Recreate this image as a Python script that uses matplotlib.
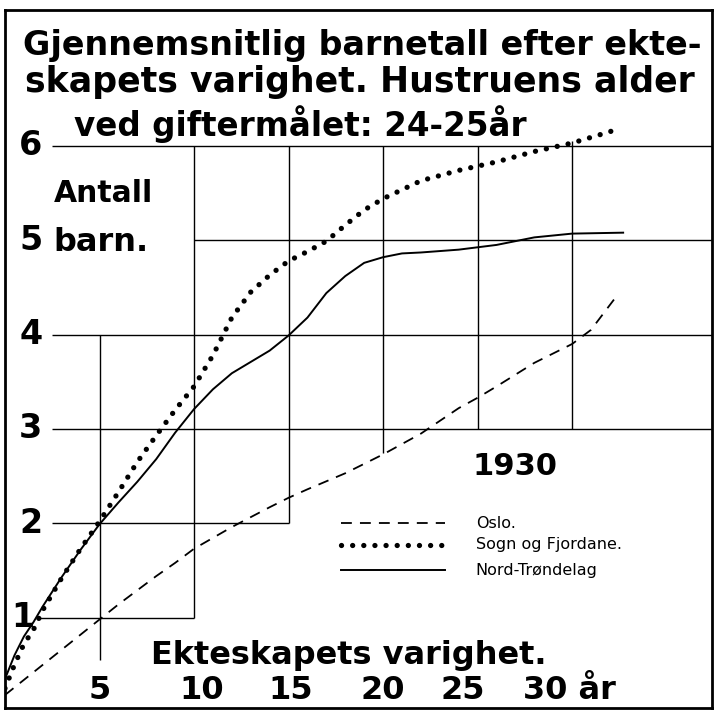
import matplotlib
matplotlib.use("Agg")
import matplotlib.pyplot as plt
from matplotlib.lines import Line2D

# data (years of marriage -> average number of children)
oslo_x = [0, 1, 2, 3, 4, 5, 6, 7, 8, 9, 10, 12, 14, 15, 16, 18, 20, 22, 24, 25, 26, 28, 30, 31, 32.4]
oslo_y = [0.18, 0.34, 0.50, 0.66, 0.82, 0.98, 1.14, 1.29, 1.44, 1.58, 1.73, 1.96, 2.17, 2.27,
          2.36, 2.53, 2.73, 2.95, 3.22, 3.33, 3.45, 3.70, 3.90, 4.05, 4.42]

sogn_x = [0, 0.5, 1, 1.5, 2, 3, 4, 5, 6, 7, 8, 9, 10, 11, 12, 13, 14, 15, 16, 17, 18, 19, 20,
          22, 24, 26, 28, 30, 32, 32.5]
sogn_y = [0.25, 0.50, 0.72, 0.87, 1.08, 1.42, 1.73, 2.02, 2.33, 2.65, 2.93, 3.20, 3.45, 3.78,
          4.18, 4.45, 4.63, 4.78, 4.88, 4.99, 5.16, 5.32, 5.44, 5.63, 5.74, 5.83, 5.94, 6.03,
          6.15, 6.19]

nord_x = [0, 0.5, 1, 1.5, 2, 3, 4, 5, 6, 7, 8, 9, 10, 11, 12, 13, 14, 15, 16, 17, 18, 19, 20,
          21, 22, 24, 26, 28, 30, 32.7]
nord_y = [0.35, 0.60, 0.80, 0.95, 1.12, 1.43, 1.72, 1.99, 2.22, 2.44, 2.68, 2.96, 3.21, 3.42,
          3.59, 3.71, 3.83, 3.99, 4.18, 4.44, 4.62, 4.76, 4.82, 4.86, 4.87, 4.90, 4.95, 5.03,
          5.07, 5.08]

series_names = ["Oslo.", "Sogn og Fjordane.", "Nord-Trøndelag"]
x_ticks = [5, 10.4, 15.1, 20, 24.2, 27.4]
x_tick_labels = ["5", "10", "15", "20", "25", "30 år"]
y_ticks = [1, 2, 3, 4, 5, 6]

title_lines = ["Gjennemsnitlig barnetall efter ekte-",
               "skapets varighet. Hustruens alder",
               "ved giftermålet: 24-25år"]

W, H = 716, 711
fig = plt.figure(figsize=(W / 100, H / 100), dpi=100)
fig.patch.set_facecolor("white")
ax = fig.add_axes([5 / W, 3 / H, 707 / W, 698 / H])
ax.set_xlim(0, 37.4)
ax.set_ylim(0.042, 7.44)
ax.set_xticks([])
ax.set_yticks([])
for s in ax.spines.values():
    s.set_linewidth(2)
    s.set_color("black")

# stepped grid, as drawn in the original
gkw = dict(color="black", linewidth=1.0, zorder=1)
ax.hlines(6, 2.5, 37.4, **gkw)
ax.hlines(5, 10, 37.4, **gkw)
ax.hlines(4, 2.5, 37.4, **gkw)
ax.hlines(3, 2.5, 37.4, **gkw)
ax.hlines(2, 2.5, 15, **gkw)
ax.hlines(1, 1.7, 10, **gkw)
ax.vlines(5, 0.55, 4, **gkw)
ax.vlines(10, 1, 6, **gkw)
ax.vlines(15, 2, 6, **gkw)
ax.vlines(20, 2.75, 6, **gkw)
ax.vlines(25, 3, 6, **gkw)
ax.vlines(30, 3, 6.05, **gkw)

dash_style = dict(color="black", linewidth=1.3, linestyle=(0, (6, 4.5)))
dot_style = dict(color="black", linewidth=3.8, linestyle=(0, (0.01, 2.1)),
                 dash_capstyle="round")
solid_style = dict(color="black", linewidth=1.4)

ax.plot(oslo_x, oslo_y, zorder=3, **dash_style)
ax.plot(sogn_x, sogn_y, zorder=3, **dot_style)
ax.plot(nord_x, nord_y, zorder=3, **solid_style)

big = dict(family="DejaVu Sans", fontweight="bold", color="black")

# axis numbers
for v in y_ticks:
    xpos = 0.35 if v == 1 else 0.75
    ax.text(xpos, v, str(v), ha="left", va="center", fontsize=24, **big)
for v, lab in zip(x_ticks, x_tick_labels):
    ax.text(v, 0.23, lab, ha="left" if lab.endswith("år") else "center",
            va="center", fontsize=23, **big)

ax.text(2.6, 5.5, "Antall", ha="left", va="center", fontsize=21.5, **big)
ax.text(2.55, 4.98, "barn.", ha="left", va="center", fontsize=23, **big)
ax.text(18.2, 0.6, "Ekteskapets varighet.", ha="center", va="center", fontsize=23, **big)
ax.text(27.0, 2.6, "1930", ha="center", va="center", fontsize=22, **big)

# title
fig.text(362 / W, 1 - 45 / H, title_lines[0], ha="center", va="center", fontsize=24, **big)
fig.text(360 / W, 1 - 82 / H, title_lines[1], ha="center", va="center", fontsize=25, **big)
fig.text(300 / W, 1 - 124 / H, title_lines[2], ha="center", va="center", fontsize=23.5, **big)

# legend drawn by hand as in the original
leg_y = [2.0, 1.77, 1.5]
styles = [dash_style, dot_style, solid_style]
for yy, st, name in zip(leg_y, styles, series_names):
    ax.add_line(Line2D([17.8, 23.3], [yy, yy], **st))
    ax.text(24.9, yy, name, ha="left", va="center", fontsize=11.5,
            family="DejaVu Sans", color="black")

fig.savefig("out.png", dpi=100, facecolor="white")
